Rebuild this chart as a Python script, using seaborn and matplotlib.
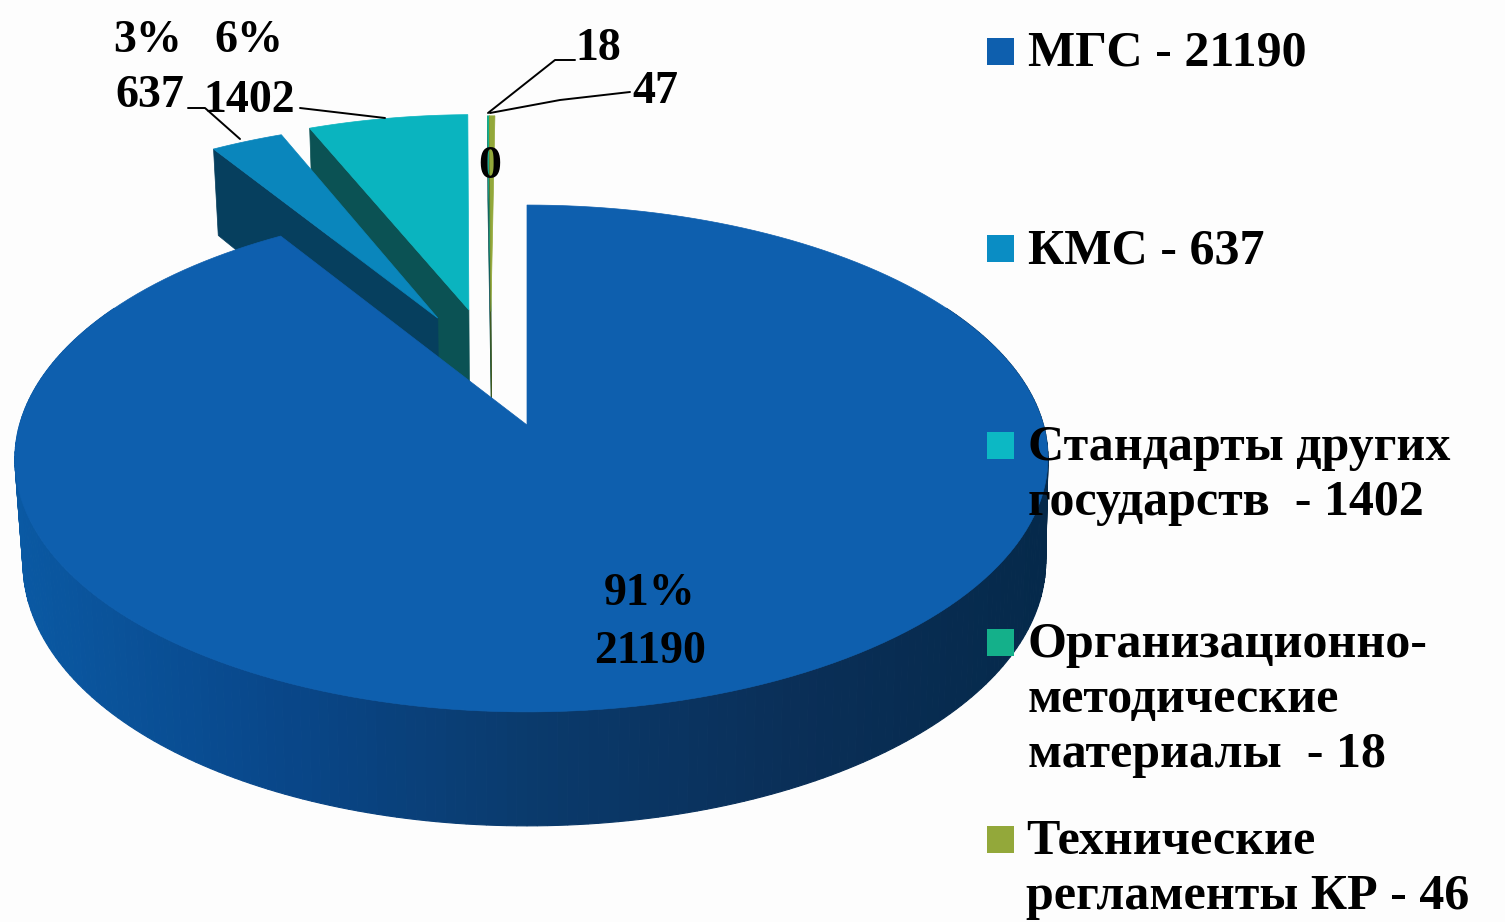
import numpy as np
import seaborn as sns
import matplotlib.pyplot as plt

values = [21190, 637, 1402, 18, 47]
pct_labels = ["91%", "3%", "6%", "0", "0"]
value_labels = ["21190", "637", "1402", "18", "47"]
legend_labels = ["МГС - 21190", "КМС - 637", "Стандарты других\nгосударств  - 1402",
                 "Организационно-\nметодические\nматериалы  - 18", "Технические\nрегламенты КР - 46"]
top_colors = ["#0E5FAE", "#0A86BC", "#0AB4BF", "#14B08A", "#93A83A"]
side_colors = ["#0A4A8A", "#063F5E", "#0B5254", "#0B5254", "#3F5A20"]
legend_colors = ["#0E5FAE", "#0A8DC4", "#0CB8C4", "#14B08A", "#93A83A"]
# смещение секторов по осям диска
shift_u = [0, -0.185, -0.121, -0.075, -0.075]
shift_v = [0, 0.455, 0.492, 0.485, 0.485]

sns.set_style("white")
plt.rcParams["font.family"] = ["Liberation Serif", "DejaVu Serif"]
plt.rcParams["font.weight"] = "bold"

# перспектива диска: центр верхней грани и масштабы
cx, cy, A, B, k = 527, 425, 249, 512, 0.132


def project(u, v, z=0.0):
    d = 1 + k * v
    x = cx + B * u / d * (1 - 0.01 * z) + (4.5 + 3 * z) * u * u
    y = cy - A * v / d + z * (102 - 12 * v)
    return x, y


fig, ax = plt.subplots(figsize=(15.05, 9.22), dpi=100, facecolor="#FDFDFD")
fig.subplots_adjust(0, 0, 1, 1)
ax.set_xlim(0, 1505)
ax.set_ylim(922, 0)
ax.axis("off")

total = sum(values)
edges = np.concatenate([[0], np.cumsum(values)]) / total * 360

# порядок отрисовки: дальние сектора, затем КМС, затем большой сектор
for layer, i in enumerate([3, 4, 2, 1, 0]):
    t1, t2 = np.radians(edges[i]), np.radians(edges[i + 1])
    ou, ov = shift_u[i], shift_v[i]
    if i == 0:
        # боковая стенка с градиентом
        ts = np.radians(np.linspace(60, 300, 241))
        grad = sns.blend_palette(["#0A59A3", "#09478A", "#0A3A6C", "#0A2F58", "#05294A"], 240)
        xs0, ys0 = project(np.sin(ts), np.cos(ts))
        xs1, ys1 = project(np.sin(ts), np.cos(ts), 1)
        for j in range(240):
            pos = int(np.clip((xs1[j] - 20) / 1030 * 239, 0, 239))
            ax.fill([xs0[j], xs0[j + 1], xs1[j + 1], xs1[j]], [ys0[j], ys0[j + 1], ys1[j + 1], ys1[j]],
                    color=grad[pos], lw=0.8, zorder=layer + 1)
    else:
        # видимая боковая грань по левому радиусу
        xa, ya = project(ou, ov)
        xb, yb = project(ou + np.sin(t1), ov + np.cos(t1))
        xc, yc = project(ou + np.sin(t1), ov + np.cos(t1), 1)
        xd, yd = project(ou, ov, 1)
        ax.fill([xa, xb, xc, xd], [ya, yb, yc, yd], color=side_colors[i], lw=0.5, zorder=layer + 1)
    arc = np.linspace(t1, t2, 200)
    us = np.concatenate([[ou], ou + np.sin(arc)])
    vs = np.concatenate([[ov], ov + np.cos(arc)])
    xs, ys = project(us, vs)
    ax.fill(xs, ys, color=top_colors[i], lw=0.5, zorder=layer + 1.5)

# подписи секторов
text_kw = dict(fontsize=33, color="black", ha="center", va="center", zorder=10)
ax.text(650, 594, pct_labels[0], **text_kw)
ax.text(650, 652, value_labels[0], **text_kw)
ax.text(148, 41, pct_labels[1], **text_kw)
ax.text(150, 96, value_labels[1], **text_kw)
ax.text(249, 41, pct_labels[2], **text_kw)
ax.text(249, 101, value_labels[2], **text_kw)
ax.text(598, 49, value_labels[3], **text_kw)
ax.text(655, 92, value_labels[4], **text_kw)
ax.text(490, 167, pct_labels[3], **text_kw)

# выноски
ax.plot([188, 205, 240], [108, 108, 139], color="black", lw=1.4, zorder=9)
ax.plot([300, 385], [108, 118], color="black", lw=1.4, zorder=9)
ax.plot([575, 555, 488], [60, 60, 113], color="black", lw=1.4, zorder=9)
ax.plot([630, 560, 490], [92, 100, 113], color="black", lw=1.4, zorder=9)

# легенда
for i, (label, color) in enumerate(zip(legend_labels, legend_colors)):
    top = 38 + 197 * i
    ax.fill([987, 1014, 1014, 987], [top, top, top + 27, top + 27], color=color, lw=0, zorder=9)
    ax.text(1028 if i < 4 else 1026, top - 7, label, fontsize=36, color="black", ha="left", va="top",
            linespacing=1.26, zorder=10)

fig.savefig("out.png", dpi=100, facecolor=fig.get_facecolor())
